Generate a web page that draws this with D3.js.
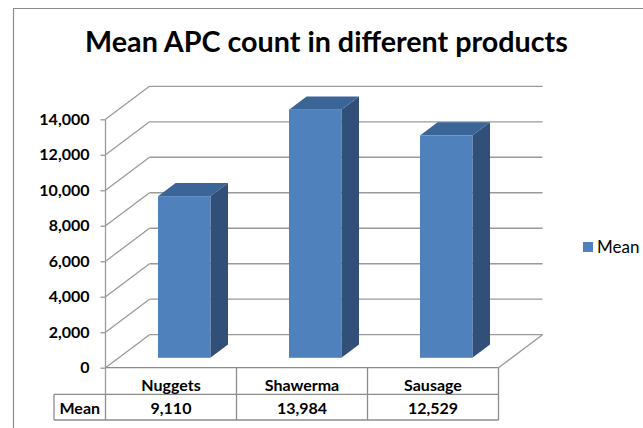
<!DOCTYPE html>
<html>
<head>
<meta charset="utf-8">
<script src="https://cdn.jsdelivr.net/npm/d3@7"></script>
<style>
  html, body { margin: 0; padding: 0; background: #fff; }
  svg { display: block; }
  text { font-family: Lato, "Open Sans", sans-serif; fill: #000; }
</style>
</head>
<body>
<svg id="chart" width="643" height="428"></svg>
<script>
const categories = ["Nuggets", "Shawerma", "Sausage"];
const seriesName = "Mean";
const meanValues = [9110, 13984, 12529];
const tickValues = [0, 2000, 4000, 6000, 8000, 10000, 12000, 14000];
const titleText = "Mean APC count in different products";

const svg = d3.select("#chart");
const W = 643, H = 428;

// 3D geometry
const DX = 44, DY = -33;          // full depth offset
const d0 = 0.3, d1 = 0.7;         // bar depth range
const colFront = "#4F81BD", colTop = "#3B6497", colSide = "#324F78";
const gridCol = "#9a9a9a";

const x = d3.scaleBand().domain(categories).range([105.5, 498.5]).paddingInner(0).paddingOuter(0);
const y = d3.scaleLinear().domain([0, 14000]).range([367.7, 119.3]);

// outer border (top & left visible)
svg.append("path")
  .attr("d", `M13.5,${H + 2} L13.5,8.5 L${W + 2},8.5`)
  .attr("fill", "none").attr("stroke", "#8c8c8c").attr("stroke-width", 1.2);

// Title
const title = svg.append("text")
  .attr("x", 326.5).attr("y", 51.5)
  .attr("text-anchor", "middle")
  .attr("font-weight", "bold")
  .attr("font-size", 27)
  .text(titleText);
(function fit() {
  const w = title.node().getComputedTextLength();
  const target = 483;
  title.attr("font-size", 27 * target / w);
})();

const x0 = x.range()[0], x1 = x.range()[1];

// Side wall & back wall grid lines
const grid = svg.append("g").attr("stroke", gridCol).attr("stroke-width", 1.3).attr("fill", "none");
tickValues.forEach(v => {
  const yy = y(v);
  grid.append("line").attr("x1", x0).attr("y1", yy).attr("x2", x0 + DX).attr("y2", yy + DY);
  grid.append("line").attr("x1", x0 + DX).attr("y1", yy + DY).attr("x2", x1 + DX).attr("y2", yy + DY);
});
// floor right edge
grid.append("line").attr("x1", x1).attr("y1", y(0)).attr("x2", x1 + DX).attr("y2", y(0) + DY);

// Bars
const bw = x.bandwidth() * 0.4;
const bars = svg.append("g");
categories.forEach((c, i) => {
  const v = meanValues[i];
  const cx = x(c) + x.bandwidth() / 2;
  const fx0 = cx - bw / 2 + d0 * DX, fx1 = cx + bw / 2 + d0 * DX;
  const fyb = y(0) + d0 * DY, fyt = y(v) + d0 * DY;
  const ddx = (d1 - d0) * DX, ddy = (d1 - d0) * DY;
  // side
  bars.append("path")
    .attr("d", `M${fx1},${fyt} L${fx1 + ddx},${fyt + ddy} L${fx1 + ddx},${fyb + ddy} L${fx1},${fyb} Z`)
    .attr("fill", colSide);
  // top
  bars.append("path")
    .attr("d", `M${fx0},${fyt} L${fx0 + ddx},${fyt + ddy} L${fx1 + ddx},${fyt + ddy} L${fx1},${fyt} Z`)
    .attr("fill", colTop);
  // front
  bars.append("rect")
    .attr("x", fx0).attr("y", fyt).attr("width", fx1 - fx0).attr("height", fyb - fyt)
    .attr("fill", colFront);
});

// Y axis (front)
const yAxis = d3.axisLeft(y).tickValues(tickValues).tickSize(5).tickPadding(11)
  .tickFormat(d3.format(","));
const ag = svg.append("g").attr("transform", `translate(${x0},0)`).call(yAxis);
ag.select(".domain").remove();
ag.selectAll(".tick line").attr("stroke", gridCol).attr("stroke-width", 1.3);
ag.selectAll(".tick text").attr("font-size", 16).attr("font-weight", "bold")
  .attr("font-family", "Lato, sans-serif").attr("fill", "#000");
svg.append("line").attr("x1", x0).attr("x2", x0).attr("y1", y(14000)).attr("y2", 394.3)
  .attr("stroke", gridCol).attr("stroke-width", 1.3);

// Data table
const rowTop = y(0), rowMid = 394.3, rowBot = 420;
const labelLeft = 54;
const tbl = svg.append("g").attr("stroke", "#8c8c8c").attr("stroke-width", 1.3).attr("fill", "none");
tbl.append("line").attr("x1", x0).attr("x2", x1).attr("y1", rowTop).attr("y2", rowTop);
tbl.append("line").attr("x1", labelLeft).attr("x2", x1).attr("y1", rowMid).attr("y2", rowMid);
tbl.append("line").attr("x1", labelLeft).attr("x2", x1).attr("y1", rowBot).attr("y2", rowBot);
tbl.append("line").attr("x1", labelLeft).attr("x2", labelLeft).attr("y1", rowMid).attr("y2", rowBot);
tbl.append("line").attr("x1", x0).attr("x2", x0).attr("y1", rowMid).attr("y2", rowBot);
categories.forEach(c => {
  const xr = x(c) + x.bandwidth();
  tbl.append("line").attr("x1", xr).attr("x2", xr).attr("y1", rowTop).attr("y2", rowBot);
});

const fmt = d3.format(",");
categories.forEach((c, i) => {
  const cx = x(c) + x.bandwidth() / 2;
  svg.append("text").attr("x", cx).attr("y", 391).attr("text-anchor", "middle")
    .attr("font-size", 16).attr("font-weight", "bold").text(c);
  svg.append("text").attr("x", cx).attr("y", 413.5).attr("text-anchor", "middle")
    .attr("font-size", 16).attr("font-weight", "bold").text(fmt(meanValues[i]));
});
svg.append("text").attr("x", (labelLeft + x0) / 2).attr("y", 413.5).attr("text-anchor", "middle")
  .attr("font-size", 16).attr("font-weight", "bold").text(seriesName);

// Legend
svg.append("rect").attr("x", 583).attr("y", 242).attr("width", 10).attr("height", 10).attr("fill", colFront);
svg.append("text").attr("x", 597).attr("y", 252.7).attr("font-size", 17).text(seriesName);
</script>
</body>
</html>
